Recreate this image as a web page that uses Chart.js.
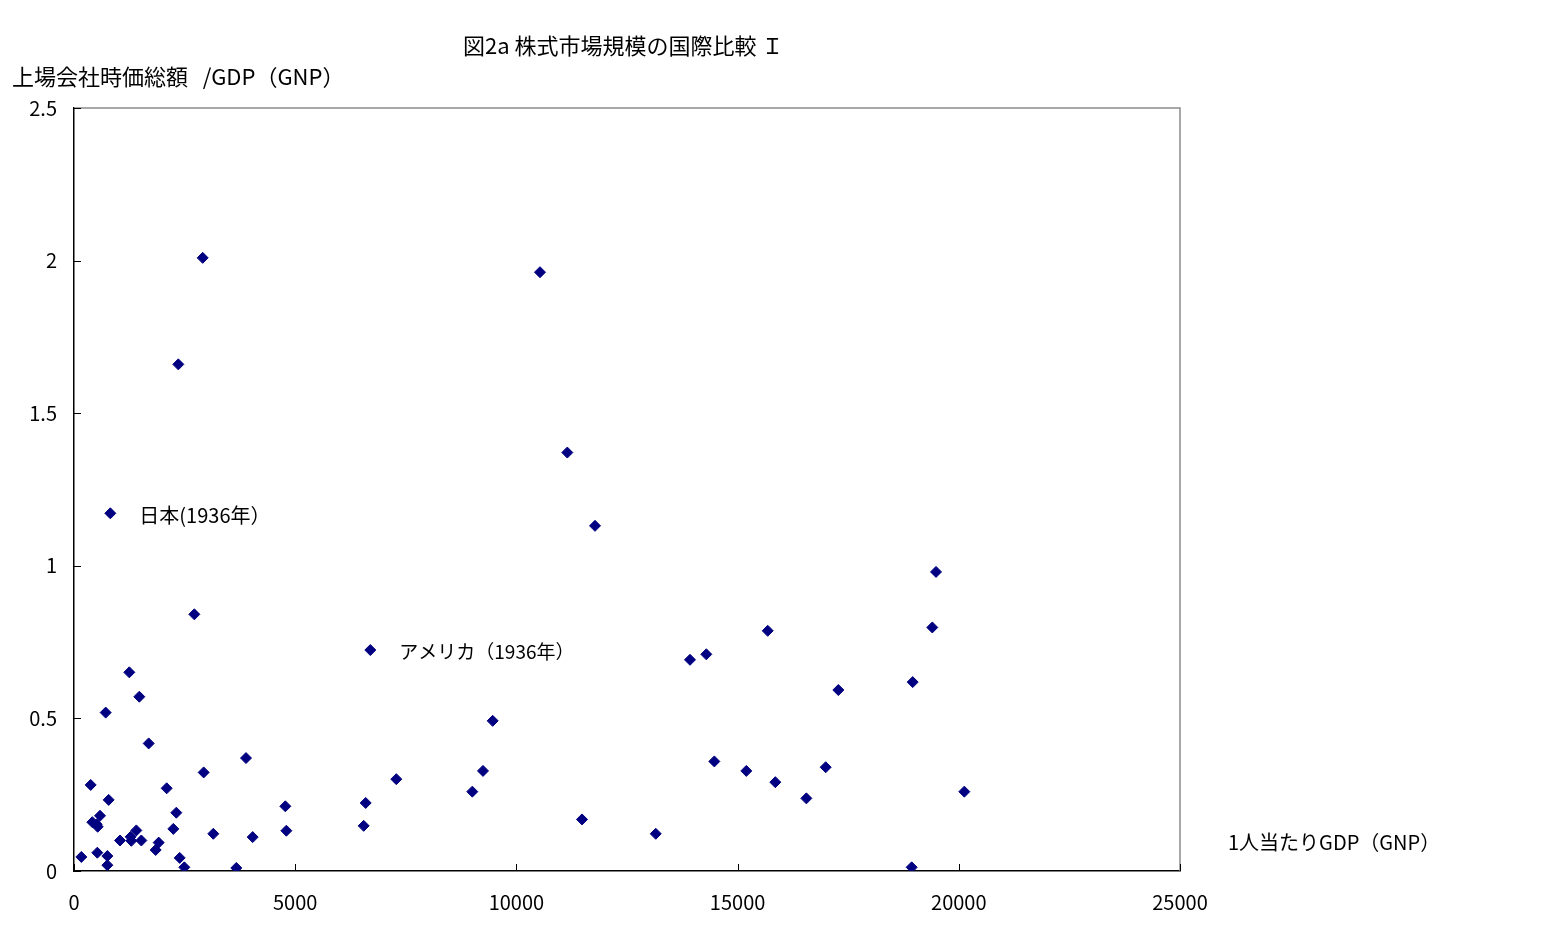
<!DOCTYPE html>
<html lang="ja">
<head>
<meta charset="utf-8">
<title>図2a 株式市場規模の国際比較 I</title>
<script src="https://cdn.jsdelivr.net/npm/chart.js@4/dist/chart.umd.min.js"></script>
<style>
  html, body { margin: 0; padding: 0; background: #ffffff; }
  #chart-wrap { width: 1544px; height: 938px; }
  canvas { display: block; }
</style>
</head>
<body>
<div id="chart-wrap"><canvas id="scatter-canvas" width="1544" height="938"></canvas></div>
<script>
// --- DATA ---
// x: 1人当たりGDP(GNP), y: 上場会社時価総額/GDP(GNP)
const gdpPerCapita = [
    166, 754, 754, 527, 414, 512, 588, 535, 377, 784,
    716, 1250, 1477, 1688, 1040, 1281, 1296, 1409, 1522, 1914,
    1846, 2095, 2313, 2245, 2389, 2494, 2931, 3149, 3669, 3888,
    4039, 4777, 4800, 2358, 2909, 821, 2720, 6698, 6593, 6548,
    7285, 9003, 9245, 9464, 10533, 11151, 11777, 11483, 13150, 13924,
    14293, 14474, 15197, 15681, 15853, 16554, 16991, 17277, 18958, 18935,
    19401, 19485, 20125
];
const capToGdp = [
    0.046, 0.049, 0.019, 0.060, 0.160, 0.153, 0.181, 0.145, 0.282, 0.233,
    0.519, 0.651, 0.571, 0.418, 0.100, 0.112, 0.099, 0.133, 0.100, 0.093,
    0.069, 0.271, 0.191, 0.138, 0.043, 0.012, 0.323, 0.122, 0.010, 0.370,
    0.111, 0.212, 0.132, 1.660, 2.009, 1.172, 0.841, 0.724, 0.223, 0.148,
    0.301, 0.260, 0.328, 0.492, 1.962, 1.371, 1.131, 0.169, 0.122, 0.692,
    0.710, 0.359, 0.328, 0.787, 0.291, 0.238, 0.340, 0.593, 0.619, 0.012,
    0.798, 0.980, 0.260
];
// labelled points (Japan, USA in 1936)
const noteLabels = ['日本(1936年）', 'アメリカ（1936年）'];
const noteIndex = [35, 37];

const xTicks = [0, 5000, 10000, 15000, 20000, 25000];
const yTicks = [0, 0.5, 1, 1.5, 2, 2.5];

const chartTitle = '図2a 株式市場規模の国際比較 Ｉ';
const yTitle = '上場会社時価総額   /GDP（GNP）';
const xTitle = '1人当たりGDP（GNP）';

// --- STYLE ---
const FONT = '"Noto Sans CJK JP", "Noto Sans", sans-serif';
const MARK = '#000080';

const points = gdpPerCapita.map((x, i) => ({ x, y: capToGdp[i] }));

// --- DECORATION PLUGIN: texts, inner tick marks, gray frame ---
const decor = {
    id: 'decor',
    afterDraw(chart) {
        const { ctx, chartArea: a, scales: { x, y } } = chart;
        ctx.save();

        // gray frame on top / right
        ctx.strokeStyle = '#8c8c8c';
        ctx.lineWidth = 1.5;
        ctx.beginPath();
        ctx.moveTo(a.left, a.top);
        ctx.lineTo(a.right, a.top);
        ctx.lineTo(a.right, a.bottom);
        ctx.stroke();

        // tick marks pointing into the plot
        ctx.strokeStyle = '#000';
        ctx.lineWidth = 1;
        ctx.beginPath();
        xTicks.forEach(v => {
            const px = Math.round(x.getPixelForValue(v)) + 0.5;
            ctx.moveTo(px, a.bottom);
            ctx.lineTo(px, a.bottom - 7);
        });
        yTicks.forEach(v => {
            const py = Math.round(y.getPixelForValue(v)) + 0.5;
            ctx.moveTo(a.left, py);
            ctx.lineTo(a.left + 7, py);
        });
        ctx.stroke();

        // texts
        ctx.fillStyle = '#000';
        ctx.textBaseline = 'middle';
        ctx.textAlign = 'left';
        ctx.font = '22px ' + FONT;
        ctx.fillText(chartTitle, 463, 46);
        ctx.fillText(yTitle, 12, 77);
        ctx.font = '20px ' + FONT;
        ctx.fillText(xTitle, 1228, 842);

        noteIndex.forEach((idx, k) => {
            const px = x.getPixelForValue(gdpPerCapita[idx]);
            const py = y.getPixelForValue(capToGdp[idx]);
            ctx.font = (k === 0 ? '20px ' : '19px ') + FONT;
            ctx.fillText(noteLabels[k], px + 29, py + 2);
        });
        ctx.restore();
    }
};

// --- CHART ---
const canvas = document.getElementById('scatter-canvas');
new Chart(canvas.getContext('2d'), {
    type: 'scatter',
    data: {
        datasets: [{
            data: points,
            pointStyle: 'rectRot',
            pointRadius: 5.5,
            backgroundColor: MARK,
            borderColor: MARK,
            borderWidth: 1
        }]
    },
    options: {
        responsive: false,
        animation: false,
        devicePixelRatio: 1,
        layout: { padding: { left: 0, right: 364, top: 108, bottom: 0 } },
        plugins: { legend: { display: false }, tooltip: { enabled: false } },
        scales: {
            x: {
                type: 'linear', min: 0, max: 25000,
                afterBuildTicks: s => { s.ticks = xTicks.map(v => ({ value: v })); },
                afterFit: s => { s.height = 67; },
                ticks: { color: '#000', font: { family: FONT, size: 20 }, padding: 19, maxRotation: 0, callback: v => String(v) },
                grid: { display: false, drawTicks: false },
                border: { display: true, color: '#000', width: 1.5 }
            },
            y: {
                type: 'linear', min: 0, max: 2.5,
                afterBuildTicks: s => { s.ticks = yTicks.map(v => ({ value: v })); },
                afterFit: s => { s.width = 74; },
                ticks: { color: '#000', font: { family: FONT, size: 20 }, padding: 17, callback: v => String(v) },
                grid: { display: false, drawTicks: false },
                border: { display: true, color: '#000', width: 1.5 }
            }
        }
    },
    plugins: [decor]
});
</script>
</body>
</html>
